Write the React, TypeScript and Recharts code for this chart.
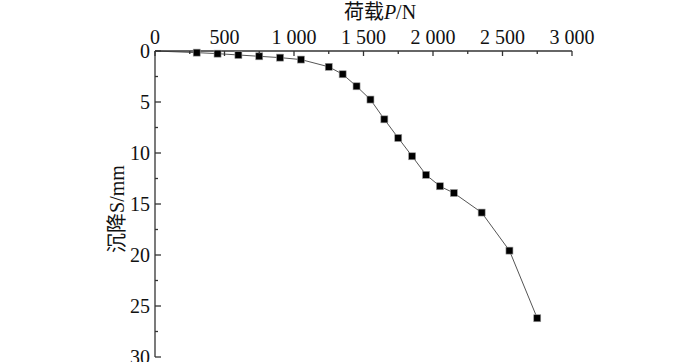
import { Label, Line, LineChart, XAxis, YAxis } from "recharts";

// load (N) vs settlement (mm)
const loads = [0, 300, 450, 600, 750, 900, 1050, 1250, 1350, 1450, 1550, 1650, 1750, 1850, 1950, 2050, 2150, 2350, 2550, 2750];
const settlements = [0, 0.16, 0.26, 0.39, 0.52, 0.65, 0.84, 1.55, 2.28, 3.46, 4.76, 6.7, 8.53, 10.32, 12.14, 13.26, 13.92, 15.84, 19.57, 26.2];

const xTicks = [0, 250, 500, 750, 1000, 1250, 1500, 1750, 2000, 2250, 2500, 2750, 3000];
const yTicks = [0, 2.5, 5, 7.5, 10, 12.5, 15, 17.5, 20, 22.5, 25, 27.5, 30];

const data = loads.map((load, i) => ({ load, settle: settlements[i] }));

const serif = "'Liberation Serif', 'Times New Roman', serif";
const cjk = "'Noto Sans CJK SC', sans-serif";
const axisColor = "#333";

const fmt = (v: number) => (v >= 1000 ? `${Math.floor(v / 1000)} ${String(v % 1000).padStart(3, "0")}` : String(v));

function TopTick({ x, y, payload }: any) {
  const v = payload.value as number;
  const major = v % 500 === 0;
  return (
    <g>
      <line x1={x} y1={y} x2={x} y2={y + (major ? 5 : 3)} stroke={axisColor} strokeWidth={1.3} />
      {major && (
        <text x={x} y={y - 7} textAnchor="middle" fontFamily={serif} fontSize={20} fill="#111">
          {fmt(v)}
        </text>
      )}
    </g>
  );
}

function LeftTick({ x, y, payload }: any) {
  const v = payload.value as number;
  const major = v % 5 === 0;
  return (
    <g>
      <line x1={x} y1={y} x2={x + (major ? 6 : 3)} y2={y} stroke={axisColor} strokeWidth={1.3} />
      {major && (
        <text x={x - 5} y={y} dy="0.35em" textAnchor="end" fontFamily={serif} fontSize={20} fill="#111">
          {v}
        </text>
      )}
    </g>
  );
}

function SquareDot({ cx, cy, index }: any) {
  if (index === 0 || cx == null || cy == null) return <g key={index} />;
  return <rect key={index} x={cx - 3.5} y={cy - 3.5} width={7} height={7} fill="#000" stroke="#999" strokeWidth={0.6} />;
}

export default function App() {
  return (
    <div style={{ position: "absolute", left: 0, top: 0 }}>
      <LineChart width={700} height={362} data={data} margin={{ top: 0, right: 128, bottom: 5, left: 0 }}>
        <XAxis
          type="number"
          dataKey="load"
          orientation="top"
          domain={[0, 3000]}
          ticks={xTicks}
          interval={0}
          height={51}
          tickSize={0}
          tickMargin={0}
          tickLine={false}
          tick={<TopTick />}
          axisLine={{ stroke: axisColor, strokeWidth: 1.3 }}
        >
          <Label
            content={() => (
              <text x={380} y={19} textAnchor="middle" fontSize={20} fill="#111">
                <tspan fontFamily={cjk}>荷载</tspan>
                <tspan fontFamily={serif} fontStyle="italic">P</tspan>
                <tspan fontFamily={serif}>/N</tspan>
              </text>
            )}
          />
        </XAxis>
        <YAxis
          type="number"
          dataKey="settle"
          domain={[0, 30]}
          reversed
          ticks={yTicks}
          interval={0}
          width={155}
          tickSize={0}
          tickMargin={0}
          tickLine={false}
          tick={<LeftTick />}
          axisLine={{ stroke: axisColor, strokeWidth: 1.3 }}
        >
          <Label
            content={() => (
              <text x={124} y={209} transform="rotate(-90 124 209)" textAnchor="middle" fontSize={20} fill="#111">
                <tspan fontFamily={cjk}>沉降</tspan>
                <tspan fontFamily={serif}>S/mm</tspan>
              </text>
            )}
          />
        </YAxis>
        <Line
          type="linear"
          dataKey="settle"
          stroke="#555"
          strokeWidth={1}
          dot={<SquareDot />}
          activeDot={false}
          isAnimationActive={false}
        />
      </LineChart>
    </div>
  );
}
